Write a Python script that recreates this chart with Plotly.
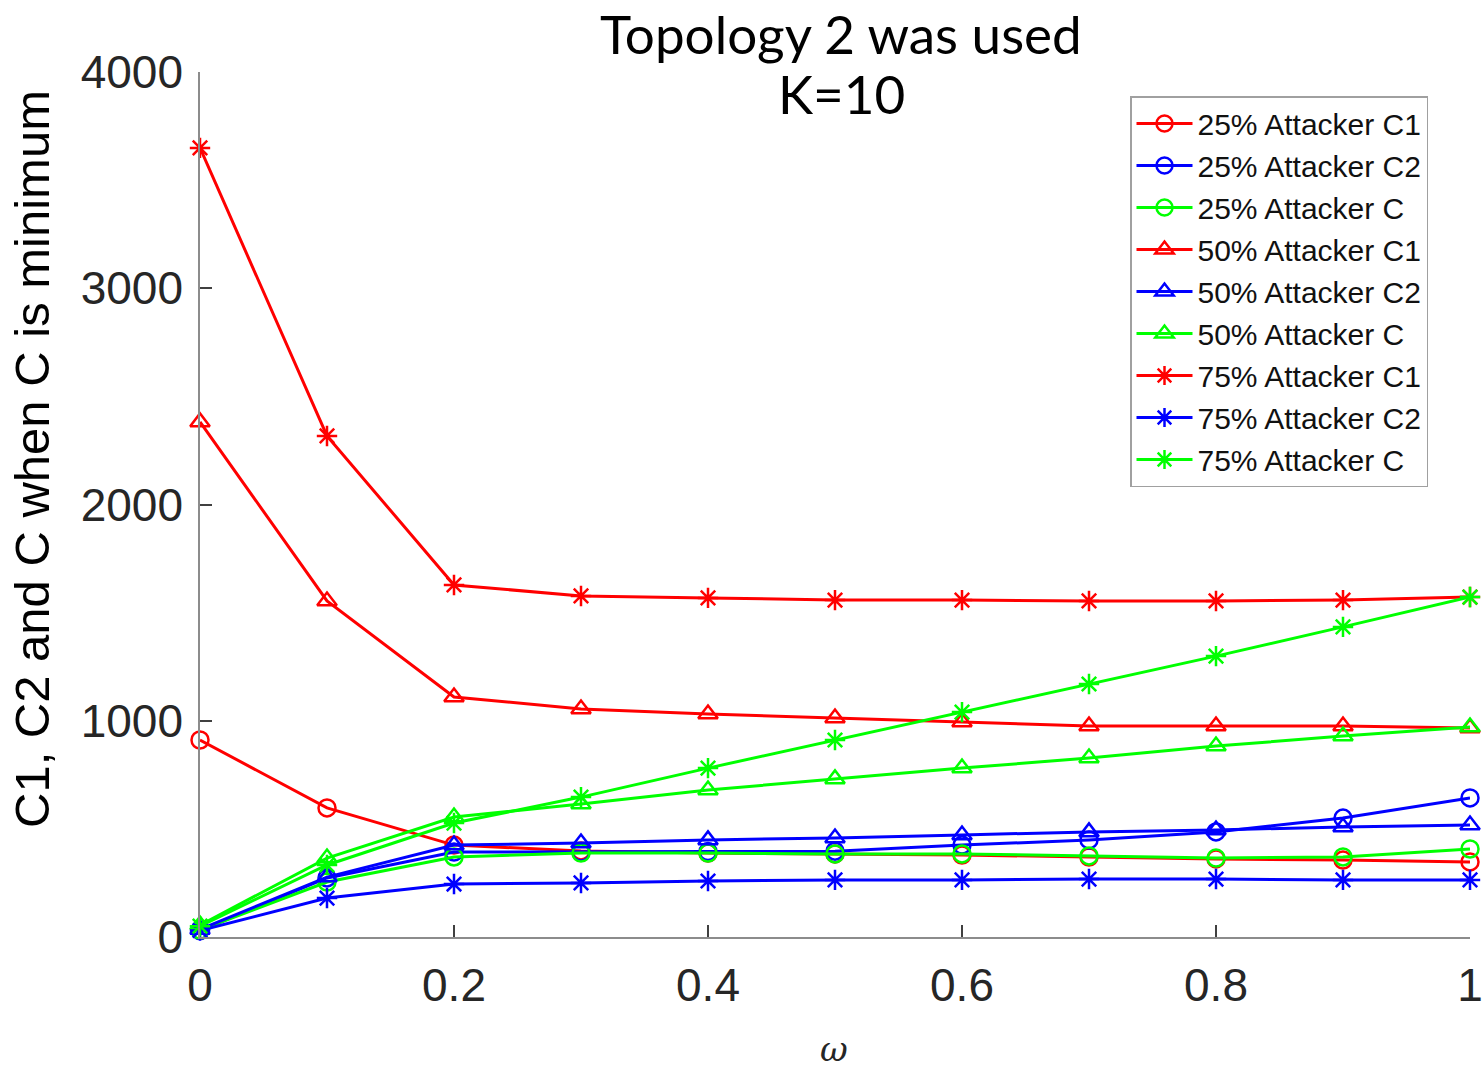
import plotly.graph_objects as go

omega = [0, 0.1, 0.2, 0.3, 0.4, 0.5, 0.6, 0.7, 0.8, 0.9, 1.0]

a25_c1 = [911, 597, 425, 398, 388, 384, 379, 370, 361, 356, 347]
a25_c2 = [30, 273, 393, 393, 395, 397, 425, 449, 486, 550, 643]
a25_c = [32, 254, 370, 388, 388, 384, 384, 375, 365, 370, 407]
a50_c1 = [2382, 1554, 1110, 1054, 1031, 1013, 994, 976, 976, 976, 966]
a50_c2 = [35, 277, 425, 435, 449, 458, 472, 486, 495, 509, 518]
a50_c = [55, 365, 555, 615, 680, 731, 781, 828, 883, 929, 971]
a75_c1 = [3649, 2317, 1628, 1577, 1568, 1558, 1558, 1554, 1554, 1558, 1572]
a75_c2 = [30, 180, 245, 250, 259, 264, 264, 268, 268, 264, 264]
a75_c = [50, 333, 527, 647, 781, 911, 1040, 1170, 1299, 1434, 1572]

x_ticks = [0, 0.2, 0.4, 0.6, 0.8, 1.0]
x_tick_labels = ["0", "0.2", "0.4", "0.6", "0.8", "1"]
y_ticks = [0, 1000, 2000, 3000, 4000]

title_lines = ["Topology 2 was used", "K=10"]
y_title = "C1, C2 and C when C is minimum"
x_title = "ω"

series = [
    ("25% Attacker C1", a25_c1, "#ff0000", "circle-open"),
    ("25% Attacker C2", a25_c2, "#0000ff", "circle-open"),
    ("25% Attacker C", a25_c, "#00ff00", "circle-open"),
    ("50% Attacker C1", a50_c1, "#ff0000", "triangle-up-open"),
    ("50% Attacker C2", a50_c2, "#0000ff", "triangle-up-open"),
    ("50% Attacker C", a50_c, "#00ff00", "triangle-up-open"),
    ("75% Attacker C1", a75_c1, "#ff0000", "asterisk-open"),
    ("75% Attacker C2", a75_c2, "#0000ff", "asterisk-open"),
    ("75% Attacker C", a75_c, "#00ff00", "asterisk-open"),
]

W, H = 1483, 1073
L, R, T, B = 200, 13, 72, 136
PW, PH = W - L - R, H - T - B

fig = go.Figure()
for name, vals, color, sym in series:
    fig.add_trace(go.Scatter(
        x=omega, y=vals, name=name, mode="lines+markers", cliponaxis=False,
        line=dict(color=color, width=3),
        marker=dict(symbol=sym, size=17, color=color, line=dict(color=color, width=2.5)),
    ))

def px_x(px):
    return (px - L) / PW

def px_y(py):
    return (H - B - py) / PH

annotations = [
    dict(text=title_lines[0], x=px_x(841), y=px_y(33), xref="paper", yref="paper",
         xanchor="center", yanchor="middle", showarrow=False,
         font=dict(family="Lato", size=53, color="black")),
    dict(text=title_lines[1], x=px_x(841), y=px_y(93), xref="paper", yref="paper",
         xanchor="center", yanchor="middle", showarrow=False,
         font=dict(family="Lato", size=53, color="black")),
    dict(text=y_title, x=px_x(32), y=px_y(459), xref="paper", yref="paper",
         xanchor="center", yanchor="middle", showarrow=False, textangle=-90,
         font=dict(family="Liberation Sans", size=49, color="black")),
    dict(text="<i>" + x_title + "</i>", x=px_x(834), y=px_y(1049), xref="paper", yref="paper",
         xanchor="center", yanchor="middle", showarrow=False,
         font=dict(family="DejaVu Serif", size=34, color="#262626")),
]

fig.update_layout(
    width=W, height=H,
    margin=dict(l=L, r=R, t=T, b=B, autoexpand=False),
    paper_bgcolor="white", plot_bgcolor="white",
    annotations=annotations,
    legend=dict(
        x=px_x(1130), y=px_y(96), xanchor="left", yanchor="top",
        bgcolor="white", bordercolor="#a0a0a0", borderwidth=1.5,
        font=dict(family="Liberation Sans", size=30, color="#111111"),
        itemwidth=56, tracegroupgap=0,
    ),
    showlegend=True,
)

fig.update_xaxes(
    range=[0, 1], tickvals=x_ticks, ticktext=x_tick_labels, automargin=False,
    showgrid=False, zeroline=False, showline=True, linecolor="#8c8c8c", linewidth=1.5,
    ticks="inside", ticklen=12, tickcolor="#404040", tickwidth=1.5, ticklabelstandoff=7,
    tickfont=dict(family="Liberation Sans", size=46, color="#262626"),
)
fig.update_yaxes(
    range=[0, 4000], tickvals=y_ticks, automargin=False,
    showgrid=False, zeroline=False, showline=True, linecolor="#8c8c8c", linewidth=1.5,
    ticks="inside", ticklen=12, tickcolor="#404040", tickwidth=1.5, ticklabelstandoff=6,
    tickfont=dict(family="Liberation Sans", size=46, color="#262626"),
)

post = ("document.body.style.margin='0';document.body.style.overflow='hidden';"
        "Plotly.relayout(document.getElementById('{plot_id}'), {width: %d, height: %d});" % (W, H))

fig.write_html("out.html", post_script=post,
               config={"responsive": False, "displayModeBar": False})
